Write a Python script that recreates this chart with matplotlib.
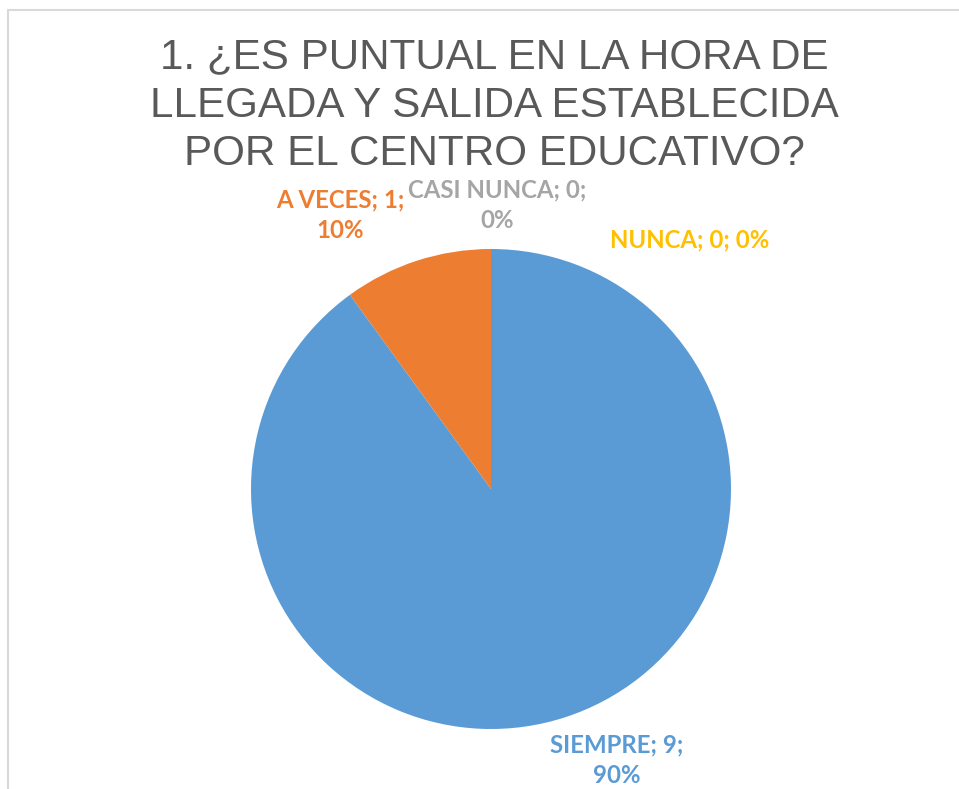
import matplotlib.pyplot as plt
from matplotlib.patches import Rectangle

# data
categories = ["SIEMPRE", "A VECES", "CASI NUNCA", "NUNCA"]
values = [9, 1, 0, 0]
colors = ["#5B9BD5", "#ED7D31", "#A5A5A5", "#FFC000"]
title = "1. ¿ES PUNTUAL EN LA HORA DE\nLLEGADA Y SALIDA ESTABLECIDA\nPOR EL CENTRO EDUCATIVO?"

W, H = 959, 789
fig = plt.figure(figsize=(W / 100, H / 100), dpi=100)

# chart border (cut at right/bottom like the screenshot)
fig.patches.append(Rectangle((8 / W, -0.1), 1.2, 1 - 10 / H + 0.1,
                             transform=fig.transFigure, fill=False,
                             edgecolor="#D9D9D9", linewidth=1.5))

fig.text(494 / W, 1 - 106 / H, title, ha="center", va="center",
         fontsize=30.3, color="#595959", family="Liberation Sans",
         linespacing=1.27)

# pie axes: center (491, 489) px, radius 240 px
cx, cy, r = 491, 489, 240
ax = fig.add_axes([(cx - r) / W, (H - cy - r) / H, 2 * r / W, 2 * r / H])
ax.pie(values, colors=colors, startangle=90, counterclock=False, radius=1,
       wedgeprops=dict(linewidth=0))
ax.set_xlim(-1, 1)
ax.set_ylim(-1, 1)
ax.set_aspect("auto")
ax.axis("off")

total = sum(values)
label_pos = {
    "SIEMPRE": ((617, 760), True),
    "A VECES": ((340, 215), True),
    "CASI NUNCA": ((497, 205), True),
    "NUNCA": ((690, 240), False),
}
for cat, val, col in zip(categories, values, colors):
    (px, py), wrap = label_pos[cat]
    pct = f"{round(100 * val / total)}%"
    sep = "\n" if wrap else " "
    txt = f"{cat}; {val};{sep}{pct}"
    ax.text((px - cx) / r, (cy - py) / r, txt, ha="center", va="center",
            fontsize=17.3, fontweight="bold", color=col, family="Lato",
            linespacing=1.42, clip_on=False)

fig.savefig("out.png", dpi=100)
